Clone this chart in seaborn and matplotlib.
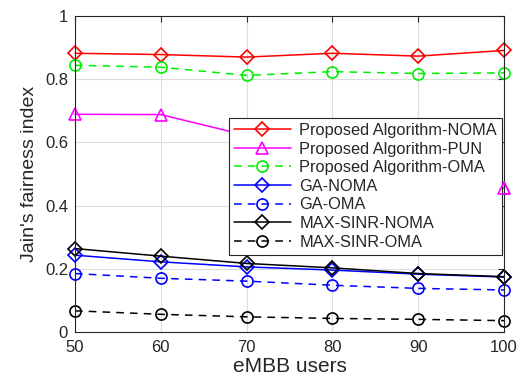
import matplotlib
matplotlib.use("Agg")
import matplotlib.pyplot as plt
import seaborn as sns
import pandas as pd

users = [50, 60, 70, 80, 90, 100]
prop_noma = [0.882, 0.878, 0.870, 0.882, 0.873, 0.891]
prop_pun = [0.689, 0.688, 0.622, 0.570, 0.515, 0.455]
prop_oma = [0.844, 0.838, 0.812, 0.824, 0.818, 0.820]
ga_noma = [0.243, 0.222, 0.206, 0.196, 0.183, 0.174]
ga_oma = [0.185, 0.170, 0.161, 0.148, 0.138, 0.133]
sinr_noma = [0.264, 0.240, 0.217, 0.203, 0.185, 0.175]
sinr_oma = [0.067, 0.056, 0.048, 0.043, 0.040, 0.036]

names = ["Proposed Algorithm-NOMA", "Proposed Algorithm-PUN", "Proposed Algorithm-OMA",
         "GA-NOMA", "GA-OMA", "MAX-SINR-NOMA", "MAX-SINR-OMA"]
series = [prop_noma, prop_pun, prop_oma, ga_noma, ga_oma, sinr_noma, sinr_oma]
colors = ["#ff0000", "#ff00ff", "#00ee00", "#0000ff", "#0000ff", "#000000", "#000000"]
styles = ["-", "-", "--", "-", "--", "-", "--"]
markers = ["D", "^", "o", "D", "o", "D", "o"]
msizes = [7.5, 8.5, 8, 7.5, 8, 7.5, 8]

sns.set_style("white")
plt.rcParams['font.family'] = ['Liberation Sans', 'DejaVu Sans']

fig = plt.figure(figsize=(5.19, 3.85), dpi=100)
ax = fig.add_axes([75/519, 1-332/385, (504-75)/519, (332-16)/385])

for name, vals, c, ls, m, ms in zip(names, series, colors, styles, markers, msizes):
    df = pd.DataFrame({"x": users, "y": vals})
    sns.lineplot(data=df, x="x", y="y", ax=ax, color=c, linestyle=ls, marker=m,
                 markersize=ms, markerfacecolor="none", markeredgecolor=c,
                 markeredgewidth=1.2, linewidth=1.1, label=name, clip_on=False)
for line, ls in zip(ax.get_lines(), styles):
    if ls == "--":
        line.set_dashes([5, 4])

# last PUN marker drawn above the legend box, as in the reference
df_last = pd.DataFrame({"x": users[-1:], "y": prop_pun[-1:]})
sns.lineplot(data=df_last, x="x", y="y", ax=ax, color="#ff00ff", marker="^",
             markersize=8.5, markerfacecolor="none", markeredgecolor="#ff00ff",
             markeredgewidth=1.2, linewidth=0, legend=False, zorder=10, clip_on=False)

ax.set_xlim(50, 100)
ax.set_ylim(0, 1)
ax.set_xticks(users)
ax.set_yticks([0, 0.2, 0.4, 0.6, 0.8, 1.0])
ax.set_yticklabels(["0", "0.2", "0.4", "0.6", "0.8", "1"])
ax.grid(True, color="#dddddd", linewidth=0.8)
ax.tick_params(direction="in", labelsize=12, colors="#262626", length=4,
               top=True, right=True)
ax.tick_params(axis="x", pad=6)
ax.tick_params(axis="y", pad=5)
for s in ax.spines.values():
    s.set_color("#262626")
    s.set_linewidth(0.8)
ax.set_xlabel("eMBB users", fontsize=15, color="#262626", labelpad=1)
ax.set_ylabel("Jain's fairness index", fontsize=14, color="#262626", labelpad=5)

leg = ax.legend(loc="upper right", bbox_to_anchor=(0.995, 0.677), fontsize=11.8,
                frameon=True, fancybox=False, edgecolor="#262626", framealpha=1,
                borderpad=0.3, labelspacing=0.22, handlelength=3.5,
                handletextpad=0.5, borderaxespad=0)
leg.get_frame().set_linewidth(0.8)
leg.set_zorder(5)

fig.savefig("out.png", dpi=100)
